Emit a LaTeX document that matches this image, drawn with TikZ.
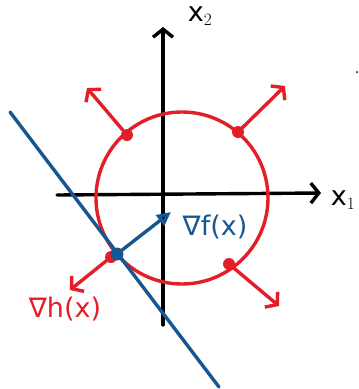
\documentclass[tikz,border=0pt]{standalone}
\usepackage{fontspec}
\setmainfont{DejaVu Sans}
\usetikzlibrary{arrows.meta}
\definecolor{pred}{RGB}{228,30,40}
\definecolor{pblue}{RGB}{22,86,145}
\begin{document}
\begin{tikzpicture}[x=1pt,y=-1pt,line cap=round,line join=round,
  axis/.style={draw=black,line width=3.4pt,-{Straight Barb[length=8pt,width=20pt,line width=3.4pt]}},
  redarr/.style={draw=pred,line width=3.4pt,-{Straight Barb[length=8pt,width=20pt,line width=3.4pt]}},
  bluearr/.style={draw=pblue,line width=3.4pt,-{Triangle[open,length=14pt,width=13pt,line width=3.4pt]}},
  rdot/.style={circle,fill=pred,inner sep=0pt,minimum size=12pt},
  bdot/.style={circle,fill=pblue,inner sep=0pt,minimum size=13pt},
  lbl/.style={inner sep=1pt,font=\fontsize{27}{30}\selectfont}]
\useasboundingbox (0,0) rectangle (359,389);
% axes
\coordinate (yb) at (163,325);
\coordinate (yt) at (163,27);
\coordinate (xl) at (57,195);
\coordinate (xr) at (321,193);
\draw[axis] (yb) -- (yt);
\draw[axis] (xl) -- (xr);
\node[lbl] (x2) at (200,16) {x$_2$};
\node[lbl] (x1) at (343,200) {x$_1$};
% circle
\node[draw=pred,line width=3.4pt,circle,minimum size=172pt,inner sep=0pt] (c) at (182,198) {};
% red dots
\node[rdot] (d1) at (127,135) {};
\node[rdot] (d2) at (238,132) {};
\node[rdot] (d3) at (229,264) {};
\node[rdot] (d4) at (111,257) {};
\coordinate (a1) at (87,88);
\coordinate (a2) at (285,86);
\coordinate (a3) at (279,306);
\coordinate (a4) at (70,290);
\draw[redarr] (d1) -- (a1);
\draw[redarr] (d2) -- (a2);
\draw[redarr] (d3) -- (a3);
\draw[redarr] (d4) -- (a4);
% blue line
\coordinate (l1) at (10,112);
\coordinate (l2) at (219,387);
\draw[draw=pblue,line width=3.4pt] (l1) -- (l2);
\node[bdot] (b) at (117,254) {};
\coordinate (bt) at (171,212);
\draw[bluearr] (b) -- (bt);
\node[circle,fill=pblue,inner sep=0pt,minimum size=2.5pt] (spk) at (357,72) {};
% labels
\node[lbl,text=pblue] (gf) at (215,227) {∇f(x)};
\node[lbl,text=pred] (gh) at (65,309) {∇h(x)};
\end{tikzpicture}
\end{document}
